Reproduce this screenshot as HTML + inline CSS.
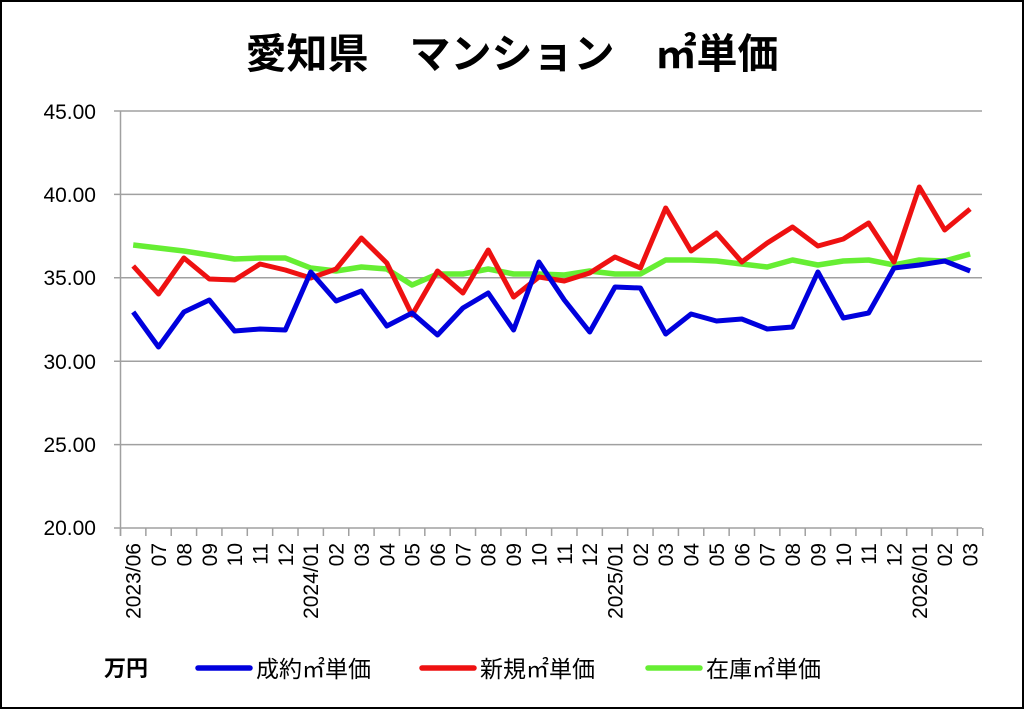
<!DOCTYPE html>
<html><head><meta charset="utf-8"><style>
body{margin:0;background:#fff}
svg{display:block}
text{font-family:"Liberation Sans","Noto Sans CJK JP",sans-serif}
</style></head><body>
<svg width="1024" height="709" viewBox="0 0 1024 709" xmlns="http://www.w3.org/2000/svg">
<rect x="1" y="1" width="1022" height="707" fill="#fff" stroke="#000" stroke-width="2"/>
<text x="512" y="68" text-anchor="middle" font-size="41" font-weight="bold" font-family="Noto Sans CJK JP,sans-serif">愛知県　マンション　㎡単価</text>
<g stroke="#a0a0a0" stroke-width="1.5">
<line x1="114" y1="111" x2="982" y2="111"/>
<line x1="114" y1="194.4" x2="982" y2="194.4"/>
<line x1="114" y1="277.8" x2="982" y2="277.8"/>
<line x1="114" y1="361.2" x2="982" y2="361.2"/>
<line x1="114" y1="444.6" x2="982" y2="444.6"/>
<line x1="114" y1="528" x2="982" y2="528"/>
<line x1="120.5" y1="111" x2="120.5" y2="536"/>
</g>
<g id="ticks" stroke="#a0a0a0" stroke-width="1.5"></g>
<g font-size="21" text-anchor="end" fill="#000">
<text x="96" y="119">45.00</text>
<text x="96" y="202">40.00</text>
<text x="96" y="285">35.00</text>
<text x="96" y="369">30.00</text>
<text x="96" y="452">25.00</text>
<text x="96" y="535">20.00</text>
</g>
<g id="xl" font-size="21" text-anchor="end"></g>
<polyline id="g" fill="none" stroke="#66ee33" stroke-width="5.5" stroke-linejoin="round"/>
<polyline id="r" fill="none" stroke="#ee1111" stroke-width="5" stroke-linejoin="round"/>
<polyline id="b" fill="none" stroke="#0000dd" stroke-width="5" stroke-linejoin="round"/>
<text x="104" y="676" font-size="22" font-weight="bold" font-family="Noto Sans CJK JP,sans-serif">万円</text>
<line x1="198" y1="668" x2="250" y2="668" stroke="#0000dd" stroke-width="5.5" stroke-linecap="round"/>
<text x="256" y="677" font-size="23" font-family="Noto Sans CJK JP,sans-serif">成約㎡単価</text>
<line x1="422" y1="668" x2="474" y2="668" stroke="#ee1111" stroke-width="5.5" stroke-linecap="round"/>
<text x="480" y="677" font-size="23" font-family="Noto Sans CJK JP,sans-serif">新規㎡単価</text>
<line x1="648" y1="668" x2="700" y2="668" stroke="#66ee33" stroke-width="5.5" stroke-linecap="round"/>
<text x="706" y="677" font-size="23" font-family="Noto Sans CJK JP,sans-serif">在庫㎡単価</text>
</svg>
<script>
var B=[312,347,312,300,331,329,330,272,301,291,326,313,335,308,293,330,262,300,332,287,288,334,314,321,319,329,327,272,318,313,268,265,261,271];
var R=[266,294,258,279,280,264,270,278,269,238,263,315,271,293,250,297,277,281,273,257,268,208,251,233,262,243,227,246,239,223,262,187,230,209];
var G=[245,248,251,255,259,258,258,268,271,267,269,285,274,274,269,274,274,275,271,274,274,260,260,261,264,267,260,265,261,260,265,260,261,254];
var L=["2023/06","07","08","09","10","11","12","2024/01","02","03","04","05","06","07","08","09","10","11","12","2025/01","02","03","04","05","06","07","08","09","10","11","12","2026/01","02","03"];
var s=25.36,x0=120.5;
function X(i){return x0+s*(i+0.5);}
function pts(a){return a.map(function(v,i){return X(i).toFixed(1)+","+v}).join(" ");}
document.getElementById("b").setAttribute("points",pts(B));
document.getElementById("r").setAttribute("points",pts(R));
document.getElementById("g").setAttribute("points",pts(G));
var ns="http://www.w3.org/2000/svg",t=document.getElementById("ticks"),xl=document.getElementById("xl");
for(var i=0;i<=34;i++){var l=document.createElementNS(ns,"line");var x=x0+s*i;l.setAttribute("x1",x);l.setAttribute("x2",x);l.setAttribute("y1",528);l.setAttribute("y2",536);t.appendChild(l);}
L.forEach(function(v,i){var e=document.createElementNS(ns,"text");var x=X(i)+7.5;e.setAttribute("transform","translate("+x+",543) rotate(-90)");e.textContent=v;xl.appendChild(e);});
</script>
</body></html>
